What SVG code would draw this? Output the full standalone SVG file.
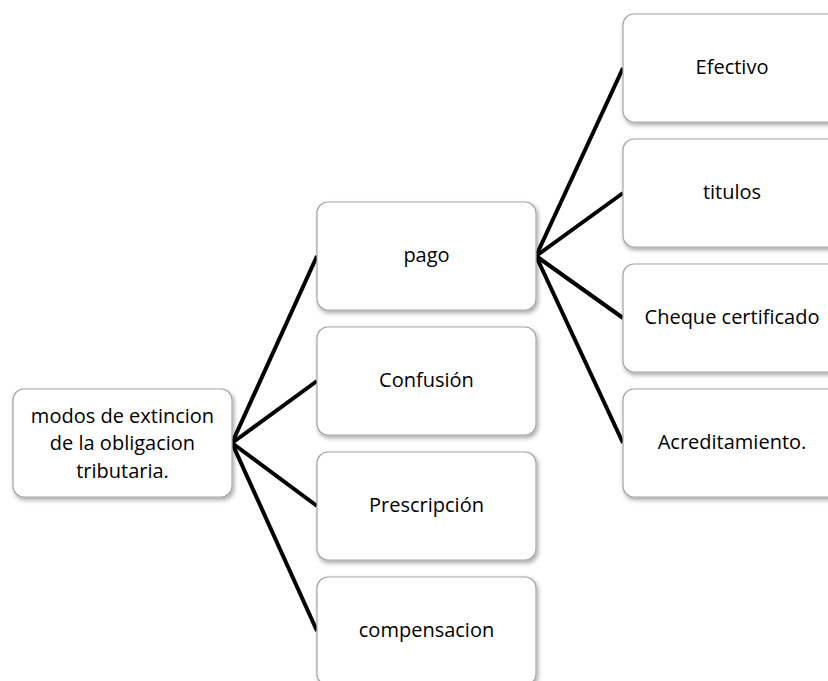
<svg xmlns="http://www.w3.org/2000/svg" width="828" height="681" viewBox="0 0 828 681">
<style>
.box{fill:#fff;stroke:#a6a6a6;stroke-width:1.2;filter:url(#sh)}
.t{font-family:"Open Sans","Liberation Sans",sans-serif;font-size:20px;fill:#000;text-anchor:middle}
.c{stroke:#000;stroke-width:4;fill:none;stroke-linecap:butt}
</style>
<defs>
<filter id="sh" x="-10%" y="-10%" width="130%" height="130%">
<feDropShadow dx="1.5" dy="2.5" stdDeviation="2" flood-color="#000" flood-opacity="0.35"/>
</filter>
</defs>
<rect width="828" height="681" fill="#fff"/>
<g id="connectors">
<line class="c" x1="232" y1="443" x2="317" y2="256"/>
<line class="c" x1="232" y1="443" x2="317" y2="381"/>
<line class="c" x1="232" y1="443" x2="317" y2="506"/>
<line class="c" x1="232" y1="443" x2="317" y2="631"/>
<line class="c" x1="536" y1="256" x2="623" y2="68"/>
<line class="c" x1="536" y1="256" x2="623" y2="193"/>
<line class="c" x1="536" y1="256" x2="623" y2="318"/>
<line class="c" x1="536" y1="256" x2="623" y2="443"/>
</g>
<g id="root">
<rect class="box" x="13" y="389" width="219" height="108" rx="11"/>
<text class="t" x="122.5" y="422.5">modos de extincion</text>
<text class="t" x="122.5" y="450">de la obligacion</text>
<text class="t" x="122.5" y="477.5">tributaria.</text>
</g>
<g id="pago">
<rect class="box" x="317" y="202" width="219" height="108" rx="11"/>
<text class="t" x="426.5" y="262">pago</text>
</g>
<g id="confusion">
<rect class="box" x="317" y="327" width="219" height="108" rx="11"/>
<text class="t" x="426.5" y="387">Confusión</text>
</g>
<g id="prescripcion">
<rect class="box" x="317" y="452" width="219" height="108" rx="11"/>
<text class="t" x="426.5" y="512">Prescripción</text>
</g>
<g id="compensacion">
<rect class="box" x="317" y="577" width="219" height="108" rx="11"/>
<text class="t" x="426.5" y="637">compensacion</text>
</g>
<g id="efectivo">
<rect class="box" x="623" y="14" width="219" height="108" rx="11"/>
<text class="t" x="732" y="74">Efectivo</text>
</g>
<g id="titulos">
<rect class="box" x="623" y="139" width="219" height="108" rx="11"/>
<text class="t" x="732" y="199">titulos</text>
</g>
<g id="cheque">
<rect class="box" x="623" y="264" width="219" height="108" rx="11"/>
<text class="t" x="732" y="324">Cheque certificado</text>
</g>
<g id="acreditamiento">
<rect class="box" x="623" y="389" width="219" height="108" rx="11"/>
<text class="t" x="732" y="449">Acreditamiento.</text>
</g>
</svg>
